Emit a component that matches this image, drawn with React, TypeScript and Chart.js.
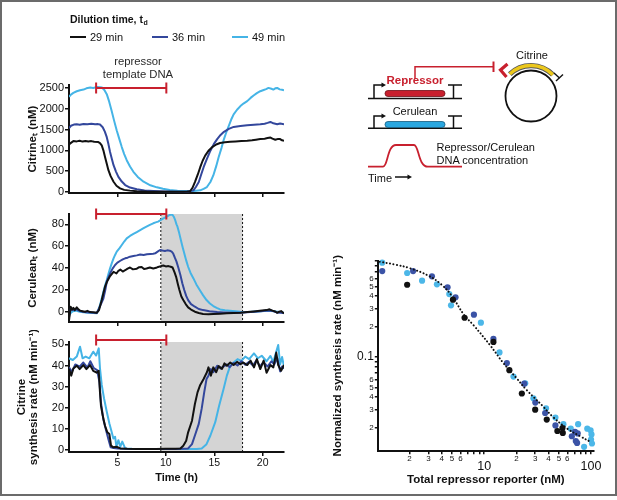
import React, { useEffect, useRef } from 'react';
import { Chart, registerables } from 'chart.js';

Chart.register(...registerables);

const FAMILY = "'Liberation Sans', Arial, Helvetica, sans-serif";
const INK = '#111111';
const RED = '#c8202e';

// ---------- shared series info ----------
const seriesLabels = ['29 min', '36 min', '49 min'];
const seriesColors = ['#111111', '#33479c', '#45b4e6'];
const legendTitle = 'Dilution time, t';
const legendSubscript = 'd';
const repressorWindowH = [2.8, 10.05];
const shadedWindowH = [9.48, 17.92];
const timeTicks = [5, 10, 15, 20];
const timeMax = 22.2;

// ---------- panel 1: Citrine_t (nM) ----------
const citrineTicks = [0, 500, 1000, 1500, 2000, 2500];
const citrine29: number[][] = [
  [0, 1143], [0.2, 1180], [0.45, 1222], [0.8, 1215], [1.1, 1230], [1.4, 1210], [1.7, 1225], [2.0, 1214], [2.3, 1222], [2.6, 1205],
  [3.03, 1198], [3.2, 1175], [3.38, 1119], [3.55, 1000], [3.72, 841], [3.9, 680], [4.07, 524], [4.3, 380], [4.6, 246], [4.9, 150],
  [5.27, 87], [5.7, 50], [6.3, 32], [7, 18], [8, 10], [9.5, 6], [11, 6], [11.8, 8], [12.2, 12], [12.5, 17], [12.75, 100], [13.0, 238],
  [13.3, 420], [13.55, 595], [13.8, 750], [14.06, 873], [14.4, 990], [14.75, 1071], [15.2, 1140], [15.6, 1175], [16.1, 1195],
  [16.65, 1206], [17.2, 1215], [17.8, 1222], [18.4, 1230], [18.9, 1240], [19.3, 1255], [19.75, 1270], [20.2, 1280], [20.5, 1295],
  [20.8, 1309], [21.0, 1280], [21.3, 1254], [21.6, 1275], [21.8, 1270], [22.0, 1240], [22.2, 1230],
];
const citrine36: number[][] = [
  [0, 1531], [0.2, 1590], [0.5, 1619], [0.8, 1625], [1.1, 1615], [1.5, 1635], [1.9, 1628], [2.3, 1640], [2.7, 1625], [3.0, 1630],
  [3.2, 1619], [3.48, 1555], [3.7, 1450], [3.9, 1317], [4.07, 1150], [4.24, 960], [4.42, 800], [4.6, 643], [4.85, 490], [5.1, 364],
  [5.45, 250], [5.8, 167], [6.3, 105], [7, 64], [7.8, 35], [8.7, 24], [10, 14], [11.5, 8], [12.3, 12], [12.85, 40], [13.1, 120],
  [13.4, 238], [13.65, 420], [13.9, 595], [14.25, 800], [14.6, 992], [14.95, 1150], [15.3, 1270], [15.65, 1370], [16, 1444],
  [16.5, 1515], [17, 1563], [17.7, 1585], [18.4, 1603], [19.1, 1615], [19.75, 1627], [20.2, 1640], [20.5, 1660], [20.8, 1682],
  [21.1, 1650], [21.5, 1627], [21.8, 1645], [22.2, 1627],
];
const citrine49: number[][] = [
  [0, 2286], [0.2, 2340], [0.45, 2380], [0.8, 2420], [1.14, 2445], [1.5, 2460], [1.8, 2490], [2.2, 2508], [2.5, 2500], [2.9, 2520],
  [3.2, 2515], [3.4, 2508], [3.65, 2450], [3.9, 2350], [4.15, 2170], [4.4, 1952], [4.65, 1720], [4.93, 1476], [5.2, 1270],
  [5.45, 1079], [5.7, 910], [5.96, 762], [6.3, 610], [6.65, 484], [7.1, 360], [7.7, 246], [8.4, 160], [9.07, 111], [9.7, 75],
  [10.4, 48], [11.2, 32], [12, 24], [12.9, 22], [13.55, 40], [13.9, 75], [14.24, 119], [14.6, 240], [14.9, 397], [15.2, 620],
  [15.45, 833], [15.75, 1060], [16, 1270], [16.25, 1440], [16.5, 1587], [16.75, 1740], [17, 1865], [17.35, 1975], [17.7, 2063],
  [18.05, 2130], [18.4, 2183], [18.75, 2260], [19.06, 2318], [19.4, 2375], [19.75, 2421], [20.1, 2450], [20.35, 2470], [20.6, 2500],
  [20.9, 2480], [21.1, 2460], [21.3, 2490], [21.5, 2500], [21.75, 2465], [22.0, 2455], [22.2, 2444],
];

// ---------- panel 2: Cerulean_t (nM) ----------
const ceruleanTicks = [0, 20, 40, 60, 80];
const cerulean29: number[][] = [
  [0, -8.2], [0.17, 4.6], [0.3, 2], [0.45, 3.5], [0.6, 1.5], [0.8, 4], [1.0, 2], [1.14, 1], [1.4, 0.5], [1.66, 0], [1.9, 0.8],
  [2.17, -0.3], [2.5, -0.5], [2.86, -1], [3.1, 1.5], [3.38, 10.7], [3.55, 17], [3.72, 22.9], [3.95, 28], [4.24, 32.7], [4.6, 36.6],
  [4.9, 35], [5.1, 37.5], [5.3, 38.6], [5.55, 36.8], [5.8, 38], [6.05, 39.5], [6.3, 40.5], [6.6, 38.8], [7, 39.4], [7.25, 40.8],
  [7.5, 41], [7.75, 39.2], [8, 39.6], [8.35, 40.5], [8.7, 39.6], [9.0, 40.2], [9.2, 41], [9.5, 41.8], [9.75, 42.3], [10.0, 41.5],
  [10.27, 41.8], [10.5, 41.2], [10.7, 40.5], [10.9, 36], [11.06, 32], [11.25, 25], [11.4, 19.9], [11.6, 14], [11.8, 10.7],
  [12.05, 7], [12.3, 4], [12.6, 2], [13, 0], [13.4, -1.2], [13.85, -2.1], [14.4, -2.3], [14.9, -2.1], [15.6, -1.8], [16.3, -1.5],
  [17, -1.2], [17.7, -0.9], [18.4, -0.3], [19.1, 0.3], [19.7, 0.8], [20.4, 1.5], [20.7, 2.2], [21, 1], [21.3, 0.2], [21.5, -1],
  [21.7, 0], [21.9, 0.6], [22.05, -0.5], [22.2, -1.5],
];
const cerulean36: number[][] = [
  [0, -5], [0.17, 2.5], [0.4, 1.5], [0.7, 2.5], [1.0, 1], [1.4, 0], [1.8, -0.5], [2.2, -0.8], [2.6, -1], [2.86, -1.2], [3.1, 3],
  [3.3, 7], [3.55, 12], [3.75, 20], [3.9, 27.5], [4.05, 31], [4.24, 35], [4.5, 39.5], [4.76, 42.8], [5.0, 45], [5.3, 46.7],
  [5.55, 48], [5.8, 48.9], [6.05, 49.5], [6.3, 50.4], [6.65, 51], [7, 51.6], [7.35, 52.4], [7.7, 52], [8.05, 52.6], [8.4, 52.9],
  [8.7, 53.2], [8.9, 53.5], [9.15, 55], [9.4, 56.5], [9.65, 56], [9.9, 55.6], [10.15, 56.2], [10.4, 55.9], [10.6, 55],
  [10.75, 53.5], [10.95, 49], [11.1, 45.9], [11.3, 40], [11.5, 33.7], [11.7, 26], [11.9, 19.9], [12.1, 14.5], [12.3, 10.7],
  [12.6, 7], [13, 4.6], [13.4, 2.5], [13.85, 1.5], [14.5, 0.5], [15.3, -0.3], [16, -0.6], [17, -0.9], [17.7, -0.9], [18.4, -0.5],
  [19.1, 0], [19.8, 0.5], [20.4, 1.2], [21, 0.8], [21.5, -0.8], [22.2, -1.2],
];
const cerulean49: number[][] = [
  [0, -3], [0.2, -1], [0.4, 0.5], [0.7, 1], [1.1, 0], [1.5, -0.5], [2.0, -1], [2.5, -1.2], [2.86, -1.5], [3.05, 2], [3.2, 6.1],
  [3.38, 12], [3.55, 18.3], [3.72, 24], [3.9, 29], [4.07, 34.5], [4.24, 39.7], [4.42, 44.5], [4.6, 48.9], [4.76, 52], [4.93, 55],
  [5.2, 58], [5.45, 61.1], [5.7, 64.3], [5.96, 67.2], [6.3, 69.4], [6.65, 71.2], [7, 73], [7.35, 74.8], [7.7, 76.5], [8, 77.9],
  [8.35, 79.5], [8.7, 81], [8.95, 81.8], [9.2, 82.5], [9.45, 83.8], [9.75, 85.5], [10.1, 87.1], [10.4, 88.6], [10.55, 89],
  [10.7, 88.6], [10.85, 86.5], [10.96, 84], [11.1, 80], [11.2, 77.9], [11.38, 72], [11.55, 65.7], [11.72, 59.5], [11.9, 53.5],
  [12.1, 47], [12.3, 41.2], [12.55, 35.5], [12.85, 30.5], [13.15, 25], [13.5, 19.9], [13.85, 15], [14.2, 10.7], [14.55, 7.5],
  [14.9, 5.2], [15.25, 3.5], [15.6, 2.1], [16.1, 1.3], [16.6, 0.9], [17.2, 0.4], [17.7, 0], [18.5, -0.3], [19.5, 0.3], [20.5, 1],
  [21.2, 0.5], [22.2, -1],
];

// ---------- panel 3: Citrine synthesis rate (nM min^-1) ----------
const synthTicks = [0, 10, 20, 30, 40, 50];
const synth29: number[][] = [
  [0, 38.4], [0.23, 35.2], [0.45, 38.6], [0.8, 39.9], [1.1, 38.3], [1.48, 40.2], [1.8, 38.3], [2.17, 40.2], [2.5, 37.5],
  [2.86, 36.6], [3.07, 37.5], [3.2, 27.3], [3.3, 21], [3.48, 16.3], [3.72, 11.5], [3.96, 8.4], [4.17, 7.6], [4.34, 2.1],
  [4.58, 1.3], [4.9, 1.6], [5.3, 0.8], [6, 0.6], [7, 0.5], [8, 0.5], [9, 0.5], [10, 0.6], [11, 0.6], [11.5, 0.8], [11.8, 2.1],
  [12.1, 4.4], [12.3, 8.4], [12.7, 13.9], [13, 21.8], [13.27, 27.3], [13.55, 30.8], [13.9, 33.6], [14.24, 36.8], [14.4, 39.1],
  [14.65, 35.2], [14.9, 39.1], [15.2, 36.8], [15.45, 39.7], [15.8, 38.4], [16.05, 41], [16.3, 39.9], [16.65, 41.4], [17, 40.2],
  [17.35, 41.7], [17.7, 40.6], [18, 41.4], [18.4, 40.2], [18.75, 42.3], [19.1, 39.1], [19.4, 43], [19.75, 38.3], [20.1, 42.3],
  [20.4, 36.6], [20.8, 40.2], [21.1, 39.1], [21.4, 46.1], [21.6, 40.2], [21.9, 37.5], [22.2, 40.2],
];
const synth36: number[][] = [
  [0, 39.1], [0.3, 37], [0.65, 40.5], [1.1, 39.4], [1.48, 41.4], [1.9, 39], [2.2, 42], [2.55, 38.8], [2.9, 37.8], [3.15, 32],
  [3.3, 22.4], [3.55, 14.5], [3.8, 9.8], [4.07, 5.1], [4.3, 1.3], [4.6, 1], [5, 0.8], [6, 0.6], [8, 0.5], [10, 0.5], [11, 0.5],
  [12.3, 0.8], [12.7, 2.8], [13.0, 6.9], [13.4, 12.4], [13.7, 19.6], [13.96, 27.3], [14.2, 33.6], [14.4, 35.2], [14.65, 38.3],
  [14.9, 36.8], [15.3, 39.9], [15.65, 38.6], [16.3, 40.5], [16.6, 39.2], [17, 41.2], [17.4, 40], [17.8, 42], [18.2, 40.3],
  [18.6, 41.8], [19, 40], [19.35, 42.5], [19.7, 39.6], [20.1, 41.6], [20.5, 39.5], [20.9, 42], [21.2, 40.5], [21.5, 43.5],
  [21.8, 37.2], [22.0, 39.5], [22.2, 38.5],
];
const synth49: number[][] = [
  [0, 43.4], [0.4, 42.6], [0.8, 44.2], [1.14, 48.9], [1.4, 43.4], [1.72, 44.2], [2.1, 43.4], [2.5, 46.5], [2.8, 44.7], [3.07, 48.1],
  [3.2, 38.6], [3.38, 30.8], [3.62, 24.4], [3.9, 18.1], [4.17, 12.6], [4.4, 8.7], [4.58, 5.5], [4.76, 6.3], [4.9, 1.6], [5.1, 4.7],
  [5.3, 1.6], [5.5, 4], [5.8, 0.8], [6.5, 0.6], [8, 0.5], [10, 0.5], [12, 0.5], [13.2, 0.5], [13.7, 0.8], [14.2, 2.8], [14.6, 6.9],
  [15.1, 13.2], [15.5, 21], [15.96, 28.9], [16.3, 35.2], [16.65, 39.9], [17, 41.4], [17.4, 43], [17.8, 42.2], [18.2, 44.2],
  [18.6, 43], [19.1, 45.7], [19.5, 43.4], [19.9, 44.6], [20.4, 42], [20.8, 44.5], [21.1, 41.6], [21.3, 45], [21.6, 49.7],
  [21.8, 40.5], [22.0, 44], [22.2, 39.5],
];

// ---------- right: normalized synthesis rate vs total repressor reporter ----------
const doseX29 = [1.9, 5.1, 6.55, 12.2, 17.2, 22.5, 30.0, 38.5, 48.4, 54, 54.4];
const doseY29 = [0.52, 0.37, 0.245, 0.141, 0.074, 0.0435, 0.0301, 0.024, 0.0185, 0.0198, 0.0177];
const doseX36 = [1.11, 2.16, 3.24, 4.54, 5.39, 8.01, 12.2, 16.3, 23.7, 30.1, 37.2, 46.4, 66.1, 70.8, 72, 74, 75];
const doseY36 = [0.71, 0.71, 0.63, 0.49, 0.39, 0.263, 0.151, 0.087, 0.0545, 0.0354, 0.0279, 0.021, 0.0164, 0.0181, 0.0147, 0.0141, 0.0175];
const doseX49 = [1.11, 1.9, 2.62, 3.61, 4.71, 4.89, 9.31, 13.9, 18.8, 24.2, 28.9, 37.9, 46.4, 55.1, 64.6, 75.7, 86.1, 92.2, 99, 101, 100, 102];
const doseY49 = [0.86, 0.68, 0.57, 0.525, 0.42, 0.325, 0.219, 0.111, 0.064, 0.055, 0.039, 0.031, 0.0251, 0.0216, 0.0195, 0.0216, 0.0129, 0.0195, 0.0188, 0.0171, 0.0152, 0.0139];
const fitX = [1.05, 1.5, 2, 3, 4, 5, 6.5, 8, 11.4, 15, 20, 25, 35, 44, 60, 80, 98];
const fitY = [0.88, 0.82, 0.76, 0.64, 0.52, 0.4, 0.26, 0.205, 0.13, 0.088, 0.062, 0.047, 0.033, 0.0255, 0.0195, 0.0163, 0.0145];
const doseXTicks = [2, 3, 4, 5, 6, 7, 8, 9, 10, 20, 30, 40, 50, 60, 70, 80, 90, 100];
const doseXLabels = ['2', '3', '4', '5', '6', '', '', '', '10', '2', '3', '4', '5', '6', '', '', '', '100'];
const doseXMajor = [10, 100];
const doseYTicks = [0.02, 0.03, 0.04, 0.05, 0.06, 0.07, 0.08, 0.09, 0.1, 0.2, 0.3, 0.4, 0.5, 0.6, 0.7, 0.8, 0.9];
const doseYLabels = ['2', '3', '4', '5', '6', '', '', '', '0.1', '2', '3', '4', '5', '6', '', '', ''];

// ---------- helpers ----------
const toXY = (arr: number[][]) => arr.map(([x, y]) => ({ x, y }));
const zipXY = (xs: number[], ys: number[]) => xs.map((x, i) => ({ x, y: ys[i] }));

const axisGrid = { display: true, drawOnChartArea: false, drawTicks: true, tickLength: 4, color: INK, lineWidth: 1.5 };
const axisBorder = { display: true, color: INK, width: 2 };

const shadePlugin = {
  id: 'shade',
  beforeDraw(chart: any, _a: any, opts: any) {
    if (!opts || !opts.on) return;
    const { ctx, chartArea: a, scales } = chart;
    const x0 = scales.x.getPixelForValue(shadedWindowH[0]);
    const x1 = scales.x.getPixelForValue(shadedWindowH[1]);
    ctx.save();
    ctx.fillStyle = '#d4d4d4';
    ctx.fillRect(x0, a.top, x1 - x0, a.bottom - a.top);
    ctx.strokeStyle = INK;
    ctx.lineWidth = 1;
    ctx.setLineDash([2, 2]);
    [x0, x1].forEach((px) => {
      ctx.beginPath();
      ctx.moveTo(px, a.top);
      ctx.lineTo(px, a.bottom);
      ctx.stroke();
    });
    ctx.restore();
  },
};

const redBarPlugin = {
  id: 'redbar',
  afterDatasetsDraw(chart: any, _a: any, opts: any) {
    if (!opts || opts.mode === undefined) return;
    const { ctx, chartArea: a, scales } = chart;
    const x0 = scales.x.getPixelForValue(repressorWindowH[0]);
    const x1 = scales.x.getPixelForValue(repressorWindowH[1]);
    const y = opts.mode === 'value' ? scales.y.getPixelForValue(opts.value) : a.top + opts.offset;
    ctx.save();
    ctx.strokeStyle = RED;
    ctx.lineWidth = 2;
    ctx.beginPath();
    ctx.moveTo(x0, y);
    ctx.lineTo(x1, y);
    ctx.moveTo(x0, y - 5.5);
    ctx.lineTo(x0, y + 5.5);
    ctx.moveTo(x1, y - 5.5);
    ctx.lineTo(x1, y + 5.5);
    ctx.stroke();
    ctx.restore();
  },
};

const legendPlugin = {
  id: 'toplegend',
  afterDraw(chart: any, _a: any, opts: any) {
    if (!opts || !opts.on) return;
    const { ctx } = chart;
    ctx.save();
    ctx.fillStyle = INK;
    ctx.textBaseline = 'middle';
    ctx.font = `bold 10.5px ${FAMILY}`;
    ctx.fillText(legendTitle, 70, 20);
    const w = ctx.measureText(legendTitle).width;
    ctx.font = `bold 7px ${FAMILY}`;
    ctx.fillText(legendSubscript, 70 + w + 0.5, 23);
    const xs = [70, 152, 232];
    chart.data.datasets.forEach((ds: any, i: number) => {
      ctx.strokeStyle = ds.borderColor;
      ctx.lineWidth = 2;
      ctx.beginPath();
      ctx.moveTo(xs[i], 37);
      ctx.lineTo(xs[i] + 16, 37);
      ctx.stroke();
      ctx.fillStyle = INK;
      ctx.font = `11px ${FAMILY}`;
      ctx.fillText(ds.label, xs[i] + 20, 37.5);
    });
    ctx.fillStyle = '#2a2a2a';
    ctx.font = `11.3px ${FAMILY}`;
    ctx.textAlign = 'center';
    ctx.fillText('repressor', 138, 62);
    ctx.fillText('template DNA', 138, 75);
    ctx.restore();
  },
};

function timeSeries(sets: number[][][]) {
  return sets.map((arr, i) => ({
    label: seriesLabels[i],
    data: toXY(arr),
    borderColor: seriesColors[i],
    backgroundColor: seriesColors[i],
    borderWidth: 2,
    pointRadius: 0,
    tension: 0,
    fill: false,
    borderJoinStyle: 'round',
  }));
}

interface PanelCfg {
  sets: number[][][];
  yMin: number;
  yMax: number;
  yTicks: number[];
  yTitle: string | string[];
  padding: { left: number; top: number; right: number; bottom: number };
  yWidth: number;
  xHeight: number;
  xLabels: boolean;
  shade: boolean;
  legend: boolean;
  bar: any;
}

function makePanel(canvas: HTMLCanvasElement, c: PanelCfg) {
  return new Chart(canvas, {
    type: 'line',
    data: { datasets: timeSeries(c.sets) as any },
    options: {
      animation: false,
      responsive: false,
      maintainAspectRatio: false,
      events: [],
      layout: { padding: c.padding },
      plugins: {
        legend: { display: false },
        tooltip: { enabled: false },
        shade: { on: c.shade },
        redbar: c.bar,
        toplegend: { on: c.legend },
      } as any,
      scales: {
        x: {
          type: 'linear',
          min: 0,
          max: timeMax,
          afterBuildTicks: (s: any) => {
            s.ticks = timeTicks.map((v) => ({ value: v }));
          },
          afterFit: (s: any) => {
            s.height = c.xHeight;
          },
          ticks: {
            display: c.xLabels,
            autoSkip: false,
            maxRotation: 0,
            padding: 1,
            color: INK,
            font: { family: FAMILY, size: 10.5 },
            callback: (v: any) => String(v),
          },
          grid: axisGrid,
          border: axisBorder,
          title: {
            display: c.xLabels,
            text: 'Time (h)',
            color: INK,
            padding: 0,
            font: { family: FAMILY, size: 11, weight: 'bold' },
          },
        },
        y: {
          type: 'linear',
          min: c.yMin,
          max: c.yMax,
          afterBuildTicks: (s: any) => {
            s.ticks = c.yTicks.map((v) => ({ value: v }));
          },
          afterFit: (s: any) => {
            s.width = c.yWidth;
          },
          ticks: {
            padding: 1,
            color: INK,
            font: { family: FAMILY, size: 11 },
            callback: (v: any) => String(v),
          },
          grid: axisGrid,
          border: axisBorder,
          title: {
            display: true,
            text: c.yTitle,
            color: INK,
            padding: 0,
            font: { family: FAMILY, size: 11.5, weight: 'bold', lineHeight: 1.05 },
          },
        },
      } as any,
    },
    plugins: [shadePlugin, redBarPlugin, legendPlugin],
  });
}

function makeDose(canvas: HTMLCanvasElement) {
  const pt = (data: any[], color: string) => ({
    type: 'scatter',
    data,
    backgroundColor: color,
    borderColor: color,
    borderWidth: 0,
    pointRadius: 3.1,
    clip: false,
  });
  return new Chart(canvas, {
    type: 'scatter',
    data: {
      datasets: [
        {
          type: 'line',
          label: 'fit',
          data: zipXY(fitX, fitY),
          borderColor: INK,
          borderWidth: 2,
          borderDash: [0.1, 3.4],
          borderCapStyle: 'round',
          pointRadius: 0,
          tension: 0.4,
          fill: false,
        },
        { label: seriesLabels[0], ...pt(zipXY(doseX29, doseY29), seriesColors[0]) },
        { label: seriesLabels[1], ...pt(zipXY(doseX36, doseY36), '#3b53a6') },
        { label: seriesLabels[2], ...pt(zipXY(doseX49, doseY49), '#4cb7e8') },
      ] as any,
    },
    options: {
      animation: false,
      responsive: false,
      maintainAspectRatio: false,
      events: [],
      layout: { padding: { left: 11, top: 20.7, right: 23.7, bottom: 9.5 } },
      plugins: { legend: { display: false }, tooltip: { enabled: false } },
      scales: {
        x: {
          type: 'logarithmic',
          min: 1.02,
          max: 105,
          afterBuildTicks: (s: any) => {
            s.ticks = doseXTicks.map((v) => ({ value: v }));
          },
          afterFit: (s: any) => {
            s.height = 35.8;
          },
          ticks: {
            autoSkip: false,
            maxRotation: 0,
            padding: 0,
            color: INK,
            callback: (_v: any, i: number) => doseXLabels[i],
            font: (ctx: any) =>
              ctx.tick && doseXMajor.includes(ctx.tick.value)
                ? { family: FAMILY, size: 12.5, lineHeight: 2.05 }
                : { family: FAMILY, size: 8, lineHeight: 1.2 },
          },
          grid: { ...axisGrid, tickLength: 3.5 },
          border: axisBorder,
          title: {
            display: true,
            text: 'Total repressor reporter (nM)',
            color: INK,
            padding: 0,
            font: { family: FAMILY, size: 11.5, weight: 'bold' },
          },
        },
        y: {
          type: 'logarithmic',
          min: 0.0118,
          max: 0.9,
          afterBuildTicks: (s: any) => {
            s.ticks = doseYTicks.map((v) => ({ value: v }));
          },
          afterFit: (s: any) => {
            s.width = 47.3;
          },
          ticks: {
            autoSkip: false,
            padding: 1,
            color: INK,
            callback: (_v: any, i: number) => doseYLabels[i],
            font: (ctx: any) =>
              ctx.tick && ctx.tick.value === 0.1
                ? { family: FAMILY, size: 12 }
                : { family: FAMILY, size: 8 },
          },
          grid: { ...axisGrid, tickLength: 3.5 },
          border: axisBorder,
          title: {
            display: true,
            text: 'Normalized synthesis rate (nM min⁻¹)',
            color: INK,
            padding: 0,
            font: { family: FAMILY, size: 11.5, weight: 'bold' },
          },
        },
      } as any,
    },
  });
}

function ChartBox(props: { left: number; top: number; width: number; height: number; make: (c: HTMLCanvasElement) => Chart }) {
  const ref = useRef<HTMLCanvasElement>(null);
  useEffect(() => {
    const chart = props.make(ref.current as HTMLCanvasElement);
    return () => chart.destroy();
  }, []);
  return (
    <canvas
      ref={ref}
      width={props.width}
      height={props.height}
      style={{ position: 'absolute', left: props.left, top: props.top, width: props.width, height: props.height }}
    />
  );
}

function Schematic() {
  const t = { fontFamily: FAMILY, fontSize: 11, fill: INK } as any;
  const arrowHead = (x: number, y: number) => `${x - 0.5},${y - 2.6} ${x + 4},${y} ${x - 0.5},${y + 2.6}`;
  return (
    <svg width={617} height={500} style={{ position: 'absolute', left: 0, top: 0, pointerEvents: 'none' }}>
      {/* repressor gene */}
      <line x1={368} y1={98.5} x2={462} y2={98.5} stroke={INK} strokeWidth={1.6} />
      <polyline points="374,98.5 374,85 382,85" fill="none" stroke={INK} strokeWidth={1.5} />
      <polygon points={arrowHead(382, 85)} fill={INK} />
      <line x1={453.5} y1={98.5} x2={453.5} y2={85} stroke={INK} strokeWidth={1.5} />
      <line x1={448} y1={85} x2={462} y2={85} stroke={INK} strokeWidth={1.5} />
      <rect x={385} y={90.5} width={60} height={6} rx={3} fill={RED} stroke="#6e1119" strokeWidth={0.8} />
      <text x={415} y={83.5} textAnchor="middle" style={{ ...t, fill: RED, fontWeight: 'bold', fontSize: 11.5 }}>Repressor</text>
      {/* repression arrow */}
      <polyline points="415,79 415,66.7 493,66.7" fill="none" stroke={RED} strokeWidth={1.5} />
      <line x1={493.5} y1={61.5} x2={493.5} y2={72} stroke={RED} strokeWidth={2} />
      {/* cerulean gene */}
      <line x1={368} y1={128.3} x2={462} y2={128.3} stroke={INK} strokeWidth={1.6} />
      <polyline points="374,128.3 374,116 382,116" fill="none" stroke={INK} strokeWidth={1.5} />
      <polygon points={arrowHead(382, 116)} fill={INK} />
      <line x1={453.5} y1={128.3} x2={453.5} y2={116} stroke={INK} strokeWidth={1.5} />
      <line x1={448} y1={116} x2={462} y2={116} stroke={INK} strokeWidth={1.5} />
      <rect x={385} y={121.5} width={60} height={6} rx={3} fill="#2aa7e0" stroke="#145a7d" strokeWidth={0.8} />
      <text x={415} y={115} textAnchor="middle" style={t}>Cerulean</text>
      {/* DNA concentration profile */}
      <path d="M368,166.7 H383 C388,166.7 387,145 396,145 H414 C419,145 418,166.7 428,166.7 H462" fill="none" stroke={RED} strokeWidth={1.8} />
      <text x={436.5} y={150.5} style={t}>Repressor/Cerulean</text>
      <text x={436.5} y={164} style={t}>DNA concentration</text>
      <text x={368} y={182} style={t}>Time</text>
      <line x1={395} y1={177} x2={408} y2={177} stroke={INK} strokeWidth={1.5} />
      <polygon points={arrowHead(408, 177)} fill={INK} />
      {/* plasmid */}
      <circle cx={531} cy={96} r={25.5} fill="none" stroke={INK} strokeWidth={1.8} />
      <path d="M509.8,74.1 A30.5,30.5 0 0 1 552.9,74.8" fill="none" stroke="#555" strokeWidth={5.2} />
      <path d="M509.8,74.1 A30.5,30.5 0 0 1 552.9,74.8" fill="none" stroke="#ecc81c" strokeWidth={3.4} />
      <polyline points="507.5,64 500.5,70 506.5,77" fill="none" stroke={RED} strokeWidth={3.2} />
      <line x1={554} y1={73} x2={559.5} y2={78} stroke={INK} strokeWidth={1.4} />
      <line x1={556} y1={81} x2={563} y2={74.5} stroke={INK} strokeWidth={1.4} />
      <text x={532} y={59} textAnchor="middle" style={t}>Citrine</text>
    </svg>
  );
}

export default function App() {
  return (
    <div style={{ position: 'fixed', left: 0, top: 0, width: 617, height: 500, background: '#fff', overflow: 'hidden' }}>
      <ChartBox
        left={0}
        top={0}
        width={300}
        height={205}
        make={(cv) =>
          makePanel(cv, {
            sets: [citrine29, citrine36, citrine49],
            yMin: -25,
            yMax: 2570,
            yTicks: citrineTicks,
            yTitle: 'Citrineₜ (nM)',
            padding: { left: 27, top: 85, right: 16, bottom: 4 },
            yWidth: 42,
            xHeight: 8,
            xLabels: false,
            shade: false,
            legend: true,
            bar: { mode: 'value', value: 2500 },
          })
        }
      />
      <ChartBox
        left={0}
        top={200}
        width={300}
        height={130}
        make={(cv) =>
          makePanel(cv, {
            sets: [cerulean29, cerulean36, cerulean49],
            yMin: -9.4,
            yMax: 89.5,
            yTicks: ceruleanTicks,
            yTitle: 'Ceruleanₜ (nM)',
            padding: { left: 27, top: 14, right: 16, bottom: 0 },
            yWidth: 42,
            xHeight: 8,
            xLabels: false,
            shade: true,
            legend: false,
            bar: { mode: 'top', offset: 0 },
          })
        }
      />
      <ChartBox
        left={0}
        top={330}
        width={300}
        height={170}
        make={(cv) =>
          makePanel(cv, {
            sets: [synth29, synth36, synth49],
            yMin: -0.9,
            yMax: 51.1,
            yTicks: synthTicks,
            yTitle: ['Citrine', 'synthesis rate (nM min⁻¹)'],
            padding: { left: 16, top: 12, right: 16, bottom: 15.4 },
            yWidth: 53,
            xHeight: 32.6,
            xLabels: true,
            shade: true,
            legend: false,
            bar: { mode: 'top', offset: -2 },
          })
        }
      />
      <ChartBox left={320} top={240} width={297} height={256} make={makeDose} />
      <Schematic />
      <div
        style={{
          position: 'absolute',
          left: 0,
          top: 0,
          width: 617,
          height: 496,
          border: '2px solid #6b6b6b',
          boxSizing: 'border-box',
          pointerEvents: 'none',
        }}
      />
    </div>
  );
}
